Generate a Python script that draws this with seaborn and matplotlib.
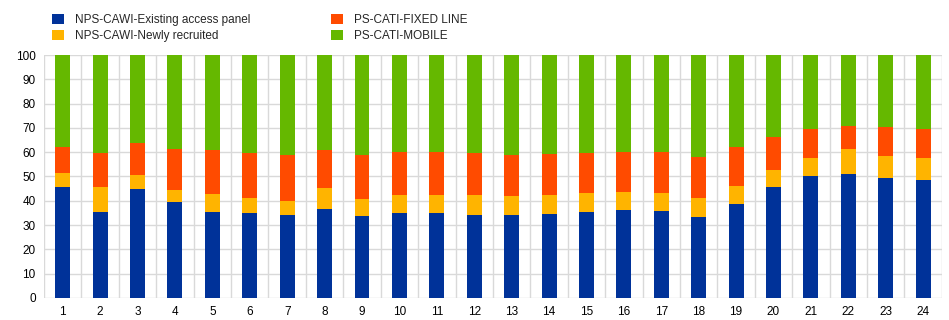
import numpy as np
import pandas as pd
import matplotlib
matplotlib.use("Agg")
import matplotlib.pyplot as plt
import seaborn as sns
from matplotlib.patches import Patch

categories = [str(i) for i in range(1, 25)]
existing_panel = [45.5, 35.2, 44.7, 39.3, 35.5, 34.8, 34.1, 36.7, 33.6, 34.9, 34.8, 34.1,
                  34.0, 34.5, 35.3, 36.0, 35.6, 33.3, 38.8, 45.5, 50.0, 51.2, 49.2, 48.4]
newly_recruited = [6.0, 10.3, 6.0, 5.1, 7.2, 6.4, 5.9, 8.4, 7.2, 7.3, 7.7, 8.1,
                   7.8, 8.0, 8.0, 7.8, 7.8, 7.9, 7.2, 7.2, 7.7, 10.0, 9.4, 9.3]
fixed_line = [10.8, 14.0, 12.9, 16.8, 18.0, 18.4, 18.9, 16.0, 18.2, 17.8, 17.4, 17.3,
              17.2, 16.7, 16.2, 16.1, 16.5, 17.0, 16.2, 13.7, 11.8, 9.5, 11.7, 12.0]
mobile = [37.7, 40.5, 36.4, 38.8, 39.3, 40.4, 41.1, 38.9, 41.0, 40.0, 40.1, 40.5,
          41.0, 40.8, 40.5, 40.1, 40.1, 41.8, 37.8, 33.6, 30.5, 29.3, 29.7, 30.3]

series_names = ["NPS-CAWI-Existing access panel", "NPS-CAWI-Newly recruited",
                "PS-CATI-FIXED LINE", "PS-CATI-MOBILE"]
colors = ["#003299", "#FFB400", "#FF4B00", "#65B800"]

sns.set_theme(style="white")
plt.rcParams['font.family'] = ['Liberation Sans', 'DejaVu Sans']

vals = np.array([existing_panel, newly_recruited, fixed_line, mobile])
cum = np.cumsum(vals, axis=0)

fig = plt.figure(figsize=(9.49, 3.2), dpi=100)
ax = fig.add_axes([0.0464, 0.069, 0.946, 0.759])

# draw cumulative totals from the top down so the stacked look emerges
for i in range(3, -1, -1):
    df = pd.DataFrame({"cat": categories, "val": cum[i]})
    sns.barplot(data=df, x="cat", y="val", color=colors[i], width=0.4,
                ax=ax, saturation=1, order=categories, zorder=3,
                edgecolor="none", linewidth=0)

ax.set_xlim(-0.5, len(categories) - 0.5)
ax.set_ylim(0, 100)
ax.set_yticks(np.arange(0, 101, 10))
ax.set_xlabel("")
ax.set_ylabel("")
ax.set_xticks(np.arange(-0.5, len(categories), 1), minor=True)
ax.grid(False)
ax.grid(True, axis="y", which="major", color="#d9d9d9", lw=1, zorder=0)
ax.grid(True, axis="x", which="minor", color="#d9d9d9", lw=1, zorder=0)
ax.tick_params(axis="both", which="both", length=0, labelsize=8.5, colors="#000000", pad=6)
for s in ax.spines.values():
    s.set_visible(False)

handles = [Patch(facecolor=c, edgecolor="none") for c in colors]
fig.legend(handles, series_names, loc="upper left", bbox_to_anchor=(0.05, 0.972),
           ncol=2, frameon=False, fontsize=8.5, handlelength=1.0, handleheight=1.0,
           handletextpad=0.9, columnspacing=6.9, labelspacing=0.3, borderaxespad=0)

fig.savefig("out.png", dpi=100)
